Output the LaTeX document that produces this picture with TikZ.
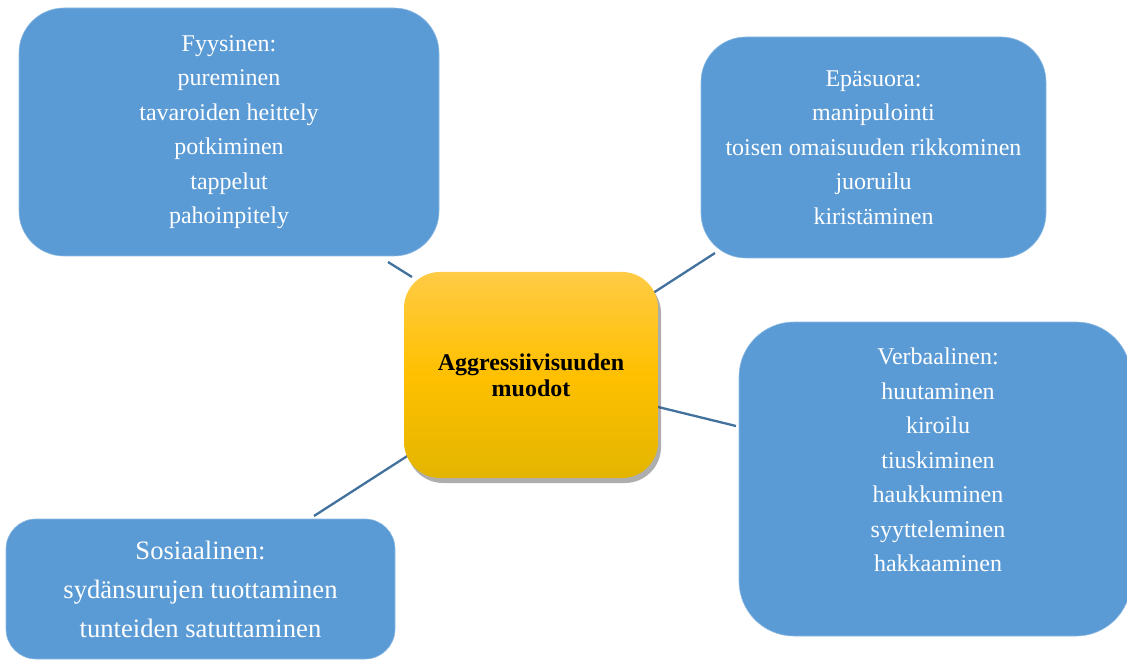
\documentclass[tikz,border=0pt]{standalone}
\usepackage{fontspec}
\setmainfont{Liberation Serif}
\usetikzlibrary{shadows}
\definecolor{boxblue}{HTML}{5B9BD5}
\definecolor{connblue}{HTML}{41719C}
\definecolor{goldtop}{HTML}{FFCB45}
\definecolor{goldmid}{HTML}{FFC000}
\definecolor{goldbot}{HTML}{E3B500}
\begin{document}
\begin{tikzpicture}[x=1pt,y=-1pt,
  bluebox/.style={fill=boxblue, draw=boxblue!70!white, line width=0.6pt, text=white, align=center, inner sep=0pt},
  bluetext/.style={text=white, align=center, inner sep=0pt, font=\fontsize{24}{34.5}\selectfont},
  conn/.style={draw=connblue, line width=2.3pt},
  centerbox/.style={rounded corners=36pt, top color=goldtop, bottom color=goldbot, middle color=goldmid,
    drop shadow={shadow xshift=3pt, shadow yshift=-5pt, opacity=0.45, fill=black!70},
    align=center, inner sep=0pt, font=\bfseries\fontsize{24}{26}\selectfont}]
\useasboundingbox (0,0) rectangle (1127,660);
% connector ends
\coordinate (fyA) at (388,262);
\coordinate (fyB) at (412,277);
\coordinate (epA) at (715,253);
\coordinate (epB) at (650,295);
\coordinate (veA) at (736,426);
\coordinate (veB) at (650,405);
\coordinate (soA) at (314,516);
\coordinate (soB) at (412,453);
\draw[conn] (fyA) -- (fyB);
\draw[conn] (epA) -- (epB);
\draw[conn] (veA) -- (veB);
\draw[conn] (soA) -- (soB);
% center
\node[centerbox, minimum width=254pt, minimum height=206pt] (ctr) at (531,375)
  {Aggressiivisuuden\\muodot};
% outer boxes
\node[bluebox, rounded corners=45pt, minimum width=420pt, minimum height=248pt,
  font=\fontsize{24}{34.5}\selectfont] (fyy) at (229,132)
  {Fyysinen:\\pureminen\\tavaroiden heittely\\potkiminen\\tappelut\\pahoinpitely};
\node[bluebox, rounded corners=45pt, minimum width=345pt, minimum height=221pt,
  font=\fontsize{24}{34.5}\selectfont] (epa) at (873.5,147.5)
  {Epäsuora:\\manipulointi\\toisen omaisuuden rikkominen\\juoruilu\\kiristäminen};
\node[bluebox, rounded corners=55pt, minimum width=392pt, minimum height=314pt] (verb) at (935,479) {};
\node[bluetext] (verbt) at (938,460)
  {Verbaalinen:\\huutaminen\\kiroilu\\tiuskiminen\\haukkuminen\\syytteleminen\\hakkaaminen};
\node[bluebox, rounded corners=30pt, minimum width=389pt, minimum height=140pt,
  font=\fontsize{26.6}{39}\selectfont] (sos) at (200.5,589)
  {Sosiaalinen:\\sydänsurujen tuottaminen\\tunteiden satuttaminen};
\end{tikzpicture}
\end{document}
